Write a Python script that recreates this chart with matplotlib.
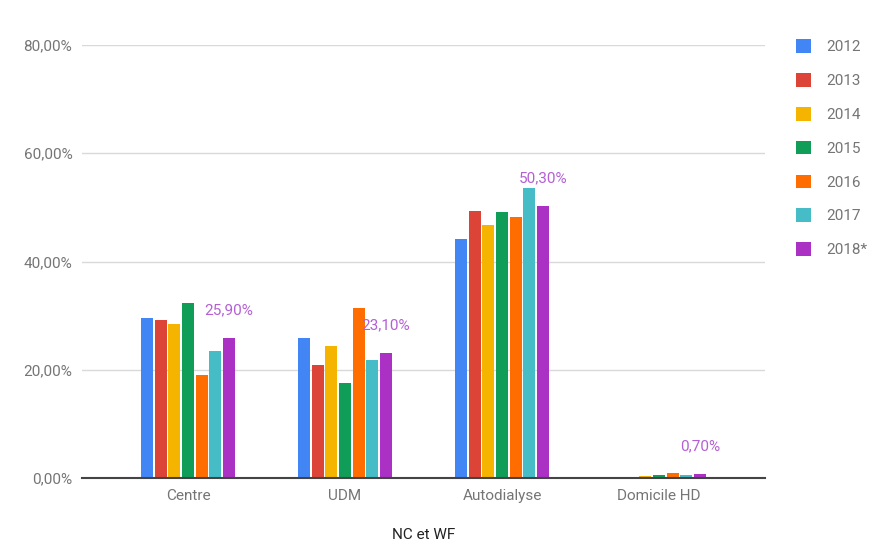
import matplotlib.pyplot as plt
import numpy as np

plt.rcParams['font.family'] = ['Roboto', 'DejaVu Sans']

# Data (percent)
categories = ['Centre', 'UDM', 'Autodialyse', 'Domicile HD']
years = ['2012', '2013', '2014', '2015', '2016', '2017', '2018*']
values = {
    '2012': [29.6, 25.9, 44.2, 0.1],
    '2013': [29.1, 20.9, 49.3, 0.2],
    '2014': [28.4, 24.4, 46.8, 0.3],
    '2015': [32.3, 17.6, 49.1, 0.6],
    '2016': [19.0, 31.4, 48.2, 0.9],
    '2017': [23.5, 21.8, 53.6, 0.5],
    '2018*': [25.9, 23.1, 50.3, 0.7],
}
labels_2018 = ['25,90%', '23,10%', '50,30%', '0,70%']
yticks = [0, 20, 40, 60, 80]
ytick_labels = ['0,00%', '20,00%', '40,00%', '60,00%', '80,00%']

colors = ['#4285f4', '#db4437', '#f4b400', '#0f9d58', '#ff6d00', '#46bdc6', '#ab30c4']
fs = 11

fig = plt.figure(figsize=(8.82, 5.49), dpi=100)
ax = fig.add_axes([82 / 882, 1 - 478 / 549, (765 - 82) / 882, (478 - 45) / 549])

x = np.arange(len(categories))
step = 0.0866
for i, yr in enumerate(years):
    pos = x + (i - 3) * step
    ax.bar(pos, values[yr], width=step * 0.88, color=colors[i], label=yr, zorder=3)

# data labels for the last series
for xi, v, lab in zip(x + 3 * step, values['2018*'], labels_2018):
    ax.annotate(lab, (xi, v), xytext=(0, 20), textcoords='offset points',
                ha='center', va='center', fontsize=fs, color='#b45fd4')

ax.set_xlim(-0.675, 3.675)
ax.set_ylim(0, 80)
ax.set_yticks(yticks)
ax.set_yticklabels(ytick_labels)
ax.set_xticks(x)
ax.set_xticklabels(categories)
ax.tick_params(axis='both', length=0, labelsize=fs, colors='#757575')
ax.tick_params(axis='y', pad=7)
ax.tick_params(axis='x', pad=8)
ax.grid(axis='y', color='#d9d9d9', linewidth=1, zorder=0)
for s in ['top', 'right', 'left']:
    ax.spines[s].set_visible(False)
ax.spines['bottom'].set_color('#444444')
ax.spines['bottom'].set_linewidth(1.5)
ax.spines['bottom'].set_zorder(4)

ax.set_xlabel('NC et WF', fontsize=fs, color='#222222', labelpad=18)

leg = fig.legend(loc='upper left', bbox_to_anchor=(790 / 882, 1 - 33 / 549),
                 frameon=False, fontsize=fs, handlelength=1.0, handleheight=1.0,
                 handletextpad=1.0, labelspacing=1.23, borderaxespad=0)
for t in leg.get_texts():
    t.set_color('#757575')

fig.savefig('out.png', dpi=100)
